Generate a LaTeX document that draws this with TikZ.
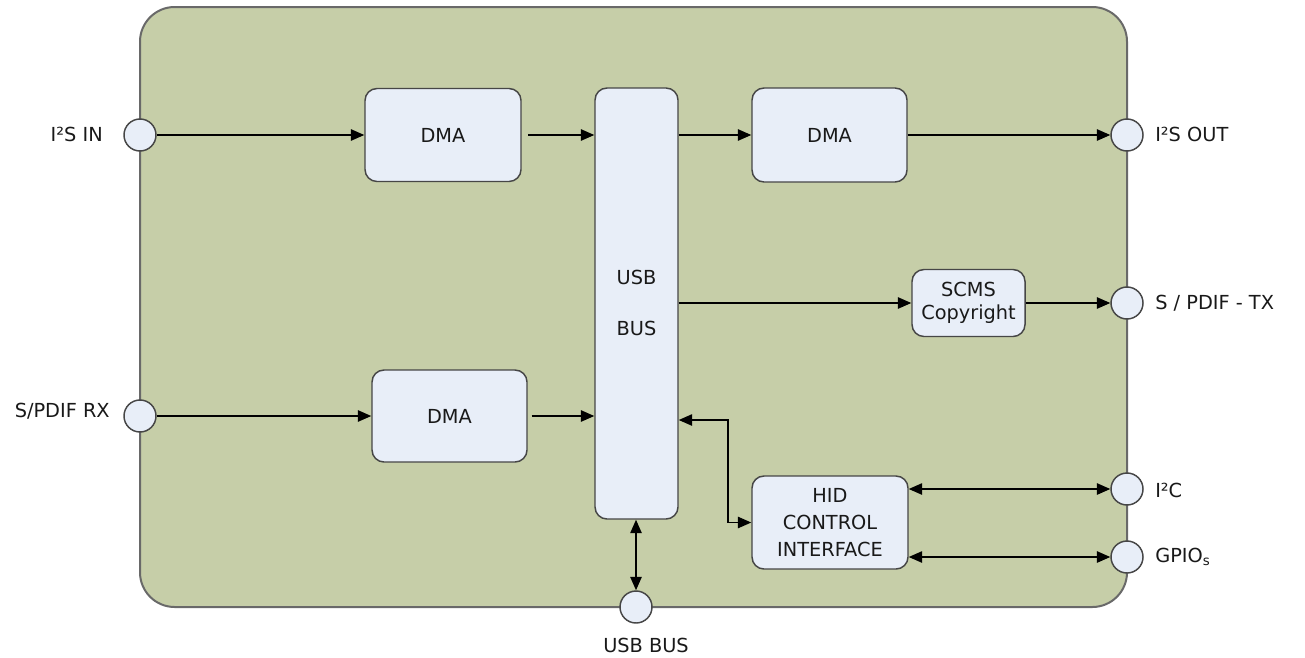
\documentclass[tikz,border=0pt]{standalone}
\usepackage{fontspec}
\setmainfont{DejaVu Sans}
\usetikzlibrary{arrows.meta}
\newdimen\pxu \pxu=0.75pt
\definecolor{bggreen}{RGB}{198,206,168}
\definecolor{boxfill}{RGB}{232,238,248}
\definecolor{edgegray}{RGB}{70,70,70}
\definecolor{framegray}{RGB}{105,105,105}
\definecolor{txt}{RGB}{25,25,25}
\tikzset{
  blk/.style={draw=edgegray, fill=boxfill, line width=1.1pt, rounded corners=9pt, inner sep=0pt},
  port/.style={circle, draw=edgegray, fill=boxfill, line width=1.1pt, minimum size=32\pxu, inner sep=0pt},
  lbl/.style={text=txt, font=\fontsize{14.5}{17}\selectfont, inner sep=0pt},
  conn/.style={line width=1.1pt, -{Triangle[length=10pt,width=8.5pt]}},
  biconn/.style={line width=1.1pt, {Triangle[length=10pt,width=8.5pt]}-{Triangle[length=10pt,width=8.5pt]}},
}
\begin{document}
\begin{tikzpicture}[x=0.75pt,y=-0.75pt]
\useasboundingbox (0,0) rectangle (1305,657);
% frame
\draw[draw=framegray, fill=bggreen, line width=1.5pt, rounded corners=26pt] (140,7) rectangle (1127,607);
% blocks
\node[blk, minimum width=156\pxu, minimum height=93\pxu] (dmaA) at (443,135) {};
\node[lbl] at (dmaA.center) {DMA};
\node[blk, minimum width=155\pxu, minimum height=94\pxu] (dmaB) at (829.5,135) {};
\node[lbl] at (dmaB.center) {DMA};
\node[blk, minimum width=155\pxu, minimum height=92\pxu] (dmaC) at (449.5,416) {};
\node[lbl] at (dmaC.center) {DMA};
\node[blk, minimum width=83\pxu, minimum height=431\pxu] (usb) at (636.5,303.5) {};
\node[lbl] (usbt1) at (636.5,277) {USB};
\node[lbl] (usbt2) at (636.5,328) {BUS};
\node[blk, minimum width=113\pxu, minimum height=67\pxu, align=center, lbl, text=txt] (scms) at (968.5,303) {SCMS\\Copyright};
\node[blk, minimum width=156\pxu, minimum height=93\pxu, lbl, text=txt, align=center, font=\fontsize{14.5}{20}\selectfont] (hid) at (830,522.5) {HID\\CONTROL\\INTERFACE};
% ports
\node[port] (pI2Sin) at (140,135) {};
\node[port] (pSPrx) at (140,416) {};
\node[port] (pI2Sout) at (1127,135) {};
\node[port] (pSPtx) at (1127,303) {};
\node[port] (pI2C) at (1127,489) {};
\node[port] (pGPIO) at (1127,557) {};
\node[port] (pUSB) at (636,607) {};
% port labels
\node[lbl, anchor=east] (tI2Sin) at (103,134) {I²S IN};
\node[lbl, anchor=east] (tSPrx) at (110,411) {S/PDIF RX};
\node[lbl, anchor=west] (tI2Sout) at (1155,134) {I²S OUT};
\node[lbl, anchor=west] (tSPtx) at (1155,303) {S / PDIF - TX};
\node[lbl, anchor=west] (tI2C) at (1155,490) {I²C};
\node[lbl, anchor=west] (tGPIO) at (1155,557) {GPIO\raisebox{-0.25ex}{\fontsize{10}{10}\selectfont s}};
\node[lbl] (tUSB) at (646,645) {USB BUS};
% connectors
\draw[conn] (pI2Sin) -- (dmaA.west |- pI2Sin);
\draw[conn] ([xshift=5pt]dmaA.east) -- (usb.west |- dmaA.east);
\draw[conn] (usb.east |- dmaB.west) -- (dmaB.west);
\draw[conn] (dmaB.east) -- (pI2Sout);
\draw[conn] (usb.east |- scms.west) -- (scms.west);
\draw[conn] (scms.east) -- (pSPtx);
\draw[conn] (pSPrx) -- (dmaC.west |- pSPrx);
\draw[conn] ([xshift=3pt]dmaC.east) -- (usb.west |- dmaC.east);
\coordinate (k1) at (728,420);
\coordinate (k2) at (728,522.5);
\draw[biconn] (usb.east |- k1) -- (k1) -- (k2) -- (hid.west);
\draw[biconn] (hid.east |- pI2C) -- (pI2C);
\draw[biconn] (hid.east |- pGPIO) -- (pGPIO);
\draw[biconn] (usb.south -| pUSB) -- (pUSB);
\end{tikzpicture}
\end{document}
